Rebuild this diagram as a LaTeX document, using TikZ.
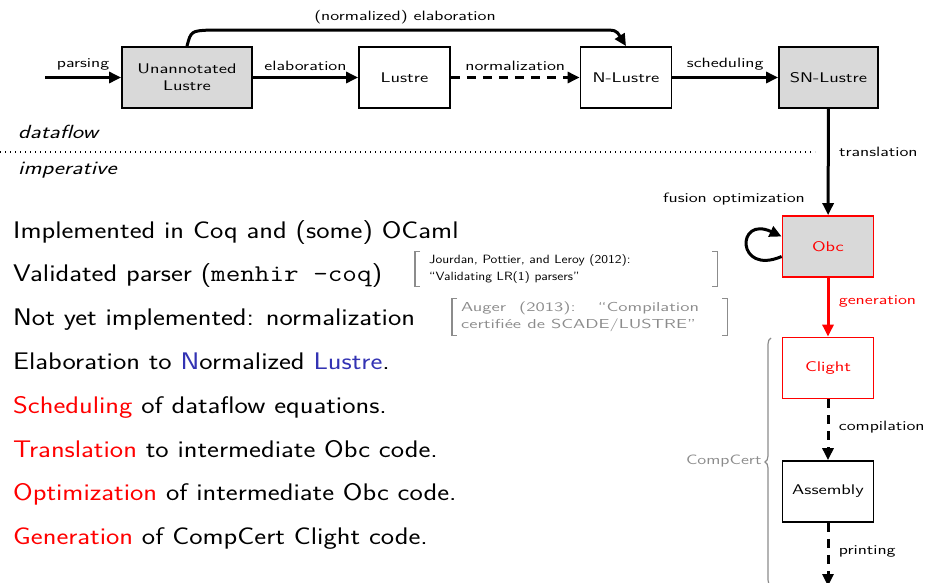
\documentclass[tikz,border=0pt]{standalone}
\usepackage{graphicx}
\usetikzlibrary{arrows.meta,decorations.pathreplacing}
\definecolor{boxgray}{HTML}{D9D9D9}
\definecolor{strucblue}{HTML}{3333B3}
\definecolor{citegray}{HTML}{8C8C8C}
\renewcommand{\familydefault}{\sfdefault}
\newcommand{\wlbl}[1]{\scalebox{1.35}[1]{#1}}
\newcommand{\wbig}[1]{\scalebox{1.18}[1]{#1}}
\newcommand{\wcite}[1]{\scalebox{1.15}[1]{#1}}
\newcommand{\wauger}[1]{\scalebox{1.45}[1]{#1}}
\tikzset{
  stage/.style={draw, line width=1.8pt, minimum width=91pt, minimum height=61pt, align=center, font=\fontsize{14}{17}\selectfont},
  flow/.style={line width=3pt, -{Triangle[length=12pt,width=11pt]}},
  lbl/.style={font=\fontsize{13.5}{16}\selectfont},
  big/.style={anchor=base west, inner sep=0pt, font=\fontsize{24}{29}\selectfont},
  cite/.style={inner sep=0pt, align=left, font=\fontsize{12}{17}\selectfont},
  brk/.style={citegray, line width=1.2pt},
}
\begin{document}
\begin{tikzpicture}[x=1pt,y=-1pt]
\useasboundingbox (0,0) rectangle (931,582);
\coordinate (src) at (45,77.5);
\node[stage, fill=boxgray, minimum width=130pt] (ua) at (187,77.5) {\wlbl{Unannotated}\\\wlbl{Lustre}};
\node[stage] (lus) at (404.5,77.5) {\wlbl{Lustre}};
\node[stage] (nlus) at (626,77.5) {\wlbl{N-Lustre}};
\node[stage, fill=boxgray, minimum width=99pt] (snlus) at (828.5,77.5) {\wlbl{SN-Lustre}};
\node[stage, draw=red, fill=boxgray, text=red] (obc) at (828,246.5) {\wlbl{Obc}};
\node[stage, draw=red, text=red] (clight) at (828,368) {\wlbl{Clight}};
\node[stage] (asm) at (828,491.5) {\wlbl{Assembly}};
\coordinate (out) at (828,586);
\draw[flow] (src) -- node[lbl, above=2pt] {\wlbl{parsing}} (ua);
\draw[flow] (ua) -- node[lbl, above=2pt] {\wlbl{elaboration}} (lus);
\draw[flow, dashed, dash pattern=on 9pt off 7pt] (lus) -- node[lbl, above=2pt] {\wlbl{normalization}} (nlus);
\draw[flow] (nlus) -- node[lbl, above=2pt] {\wlbl{scheduling}} (snlus);
\draw[flow] (ua.north) .. controls (191,31) .. (210,30) -- node[lbl, above=1pt] {\wlbl{(normalized) elaboration}} (600,30) .. controls (616,30) .. (nlus.north);
\draw[flow] (snlus) -- node[lbl, pos=0.4, right=6pt] {\wlbl{translation}} (obc);
\draw[flow] ([yshift=-10pt]obc.west) .. controls (736,276) and (736,215) .. ([yshift=10pt]obc.west);
\node[lbl] (fusion) at (734,199) {\wlbl{fusion optimization}};
\draw[flow, red] (obc) -- node[lbl, pos=0.4, right=6pt] {\wlbl{generation}} (clight);
\draw[flow, dashed, dash pattern=on 9pt off 7pt] (clight) -- node[lbl, pos=0.45, right=6pt] {\wlbl{compilation}} (asm);
\draw[flow, dashed, dash pattern=on 9pt off 7pt] (asm) -- node[lbl, pos=0.45, right=6pt] {\wlbl{printing}} (out);
\draw[citegray, line width=1.2pt, decorate, decoration={brace, amplitude=6pt}] (771,586) -- (771,338);
\node[lbl, citegray, anchor=east] (compcert) at (765,461) {\wlbl{CompCert}};
\node[anchor=west, inner sep=0pt, font=\fontsize{19}{23}\selectfont\itshape] (df) at (18,132) {\scalebox{1.27}[1]{dataflow}};
\node[anchor=west, inner sep=0pt, font=\fontsize{19}{23}\selectfont\itshape] (imp) at (18,170) {\scalebox{1.27}[1]{imperative}};
\draw[line width=1.4pt, dash pattern=on 1.4pt off 3.6pt] (0,152) -- (815,152);
\node[big] (l1) at (13,238) {\wbig{Implemented in Coq and (some) OCaml}};
\node[big] (l2) at (13,281) {\wbig{Validated parser (\texttt{menhir -coq})}};
\node[big] (l3) at (13,325) {\wbig{Not yet implemented: normalization}};
\node[big] (l4) at (13,369) {\wbig{Elaboration to \textcolor{strucblue}{N}ormalized \textcolor{strucblue}{Lustre}.}};
\node[big] (l5) at (13,413) {\wbig{\textcolor{red}{Scheduling} of dataflow equations.}};
\node[big] (l6) at (13,457) {\wbig{\textcolor{red}{Translation} to intermediate Obc code.}};
\node[big] (l7) at (13,500) {\wbig{\textcolor{red}{Optimization} of intermediate Obc code.}};
\node[big] (l8) at (13,544) {\wbig{\textcolor{red}{Generation} of CompCert Clight code.}};
\node[cite, anchor=west, text width=280pt] (cj) at (429,269) {\wcite{Jourdan, Pottier, and Leroy (2012):}\\\wcite{``Validating LR(1) parsers''}};
\draw[brk] ([xshift=-9pt,yshift=3pt]cj.north west) -- ([xshift=-14pt,yshift=3pt]cj.north west) -- ([xshift=-14pt,yshift=-3pt]cj.south west) -- ([xshift=-9pt,yshift=-3pt]cj.south west);
\draw[brk] ([xshift=3pt,yshift=3pt]cj.north east) -- ([xshift=8pt,yshift=3pt]cj.north east) -- ([xshift=8pt,yshift=-3pt]cj.south east) -- ([xshift=3pt,yshift=-3pt]cj.south east);
\node[cite, citegray, anchor=west, font=\fontsize{13}{17}\selectfont] (ca) at (461,317) {\wauger{\parbox{164pt}{Auger (2013): ``Compilation certifiée de SCADE/LUSTRE''}}};
\draw[brk] ([xshift=-4pt,yshift=3pt]ca.north west) -- ([xshift=-9pt,yshift=3pt]ca.north west) -- ([xshift=-9pt,yshift=-3pt]ca.south west) -- ([xshift=-4pt,yshift=-3pt]ca.south west);
\draw[brk] ([xshift=23pt,yshift=3pt]ca.north east) -- ([xshift=28pt,yshift=3pt]ca.north east) -- ([xshift=28pt,yshift=-3pt]ca.south east) -- ([xshift=23pt,yshift=-3pt]ca.south east);
\end{tikzpicture}
\end{document}
